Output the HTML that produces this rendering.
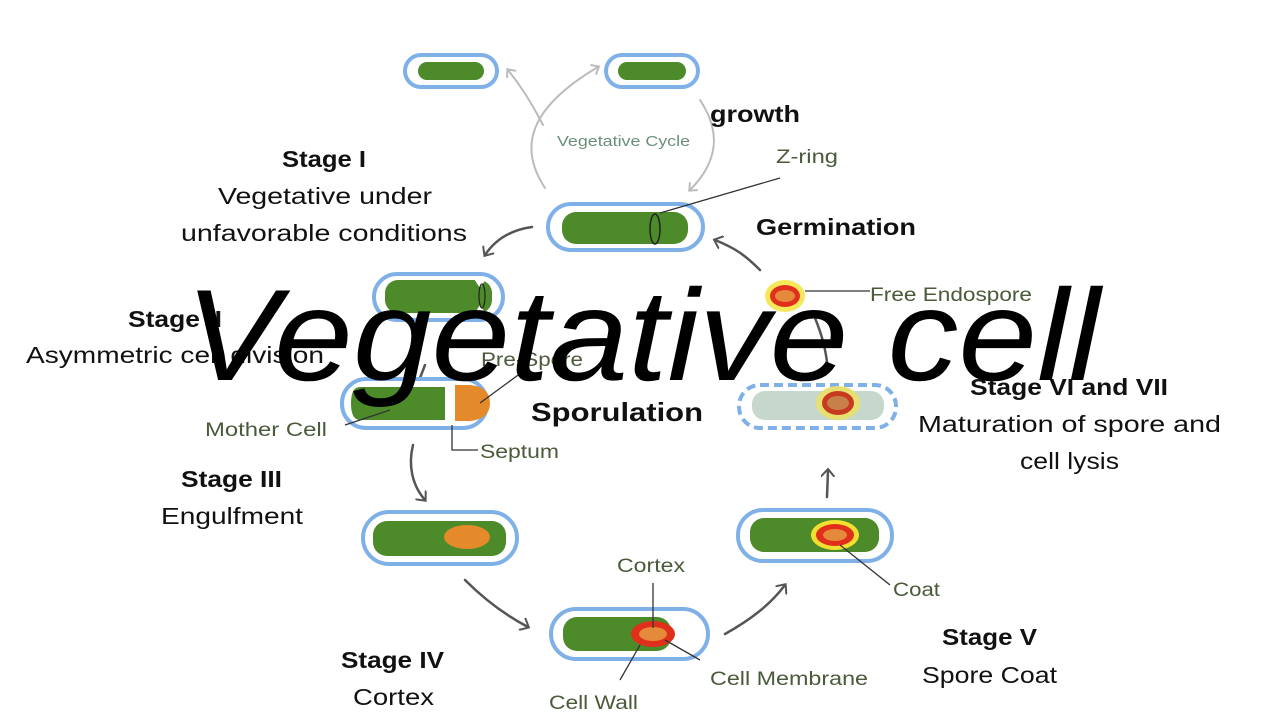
<!DOCTYPE html>
<html><head><meta charset="utf-8"><style>
html,body{margin:0;padding:0;background:#fff;}
svg{display:block;}
.lab{font-family:"Liberation Sans",sans-serif;fill:#4a5a3a;}
.h{font-family:"Liberation Sans",sans-serif;font-weight:bold;fill:#111;}
.t{font-family:"Liberation Sans",sans-serif;fill:#111;}
</style></head><body>
<svg width="1280" height="720" viewBox="0 0 1280 720" xmlns="http://www.w3.org/2000/svg">
<defs>
<marker id="ag" markerWidth="12" markerHeight="12" refX="6" refY="6" orient="auto" markerUnits="userSpaceOnUse"><path d="M0,0 L7,6 L0,12" fill="none" stroke="#bbb" stroke-width="2"/></marker>
<marker id="ad" markerWidth="14" markerHeight="14" refX="7" refY="7" orient="auto" markerUnits="userSpaceOnUse"><path d="M0,0 L8,7 L0,14" fill="none" stroke="#555" stroke-width="2"/></marker>
</defs>
<g stroke-linecap="round">
<path d="M545,188 C520,150 525,110 598,67" fill="none" stroke="#bbb" stroke-width="2" marker-end="url(#ag)"/>
<path d="M543,125 C530,100 520,85 508,70" fill="none" stroke="#bbb" stroke-width="2" marker-end="url(#ag)"/>
<path d="M700,100 C720,130 720,160 690,190" fill="none" stroke="#bbb" stroke-width="2" marker-end="url(#ag)"/>
<path d="M532,227 C510,230 495,240 485,255" fill="none" stroke="#555" stroke-width="2.5" marker-end="url(#ad)"/>
<path d="M760,270 C745,255 735,248 715,240" fill="none" stroke="#555" stroke-width="2.5" marker-end="url(#ad)"/>
<path d="M815,318 C822,335 826,350 828,370" fill="none" stroke="#555" stroke-width="2.5"/>
<path d="M413,445 C408,465 412,485 425,500" fill="none" stroke="#555" stroke-width="2.5" marker-end="url(#ad)"/>
<path d="M465,580 C485,600 505,615 528,627" fill="none" stroke="#555" stroke-width="2.5" marker-end="url(#ad)"/>
<path d="M725,634 C750,620 770,605 785,585" fill="none" stroke="#555" stroke-width="2.5" marker-end="url(#ad)"/>
<path d="M827,497 L828,470" fill="none" stroke="#555" stroke-width="2.5" marker-end="url(#ad)"/>
<path d="M425,365 L420,378" fill="none" stroke="#555" stroke-width="2.5"/>
</g>
<g stroke="#7fb0e8" stroke-width="4" fill="#fff">
<rect x="405" y="55" width="92" height="32" rx="16"/>
<rect x="606" y="55" width="92" height="32" rx="16"/>
<rect x="548" y="204" width="155" height="46" rx="23"/>
<rect x="374" y="274" width="129" height="46" rx="23"/>
<rect x="342" y="379" width="145" height="49" rx="24"/>
<rect x="363" y="512" width="154" height="52" rx="26"/>
<rect x="551" y="609" width="157" height="50" rx="25"/>
<rect x="738" y="510" width="154" height="51" rx="25"/>
<rect x="739" y="385" width="157" height="43" rx="21" stroke-dasharray="9,5"/>
</g>
<g fill="#4d8a2a">
<rect x="418" y="62" width="66" height="18" rx="9"/>
<rect x="618" y="62" width="68" height="18" rx="9"/>
<rect x="562" y="212" width="126" height="32" rx="14"/>
<rect x="385" y="280" width="107" height="33" rx="13"/>
<path d="M360,387 H445 V420 H360 Q351,420 351,403 Q351,387 360,387Z"/>
<rect x="373" y="521" width="133" height="35" rx="14"/>
<rect x="563" y="617" width="108" height="34" rx="14"/>
<rect x="750" y="518" width="129" height="34" rx="14"/>
</g>
<path d="M474,279 L480,288 L486,279Z M474,314 L480,305 L486,314Z" fill="#fff"/>
<rect x="752" y="391" width="132" height="29" rx="13" fill="#c6d7cb"/>
<path d="M455,385 H470 Q490,387 490,403 Q490,419 470,421 H455Z" fill="#e58a2a"/>
<ellipse cx="655" cy="229" rx="5" ry="15" fill="none" stroke="#222" stroke-width="1.5"/>
<ellipse cx="482" cy="296" rx="3" ry="12" fill="none" stroke="#222" stroke-width="1.2"/>
<ellipse cx="467" cy="537" rx="23" ry="12" fill="#e58a2a"/>
<ellipse cx="653" cy="634" rx="22" ry="13" fill="#e0301c"/><ellipse cx="653" cy="634" rx="14" ry="7" fill="#e58a3a"/>
<ellipse cx="835" cy="535" rx="24" ry="15" fill="#f2e030"/><ellipse cx="835" cy="535" rx="19" ry="11" fill="#e0301c"/><ellipse cx="835" cy="535" rx="12" ry="6" fill="#e58a3a"/>
<ellipse cx="785" cy="296" rx="20" ry="16" fill="#f3e648" opacity="0.9"/><ellipse cx="785" cy="296" rx="15" ry="11" fill="#e0301c"/><ellipse cx="785" cy="296" rx="10" ry="6" fill="#e58a3a"/>
<ellipse cx="838" cy="403" rx="22" ry="17" fill="#e7e070"/><ellipse cx="838" cy="403" rx="16" ry="12" fill="#c83a20"/><ellipse cx="838" cy="403" rx="11" ry="7" fill="#c8804a"/>
<g stroke="#333" stroke-width="1.3" fill="none">
<path d="M660,213 L780,178"/>
<path d="M805,291 L870,291"/>
<path d="M480,403 L525,370"/>
<path d="M452,425 V450 H478"/>
<path d="M345,425 L390,410"/>
<path d="M653,583 V628"/>
<path d="M640,645 L620,680"/>
<path d="M665,640 L700,660"/>
<path d="M840,545 L890,585"/>
</g>
<g>
<text x="557" y="146" class="lab" font-size="15" style="fill:#6a8f7a" textLength="133" lengthAdjust="spacingAndGlyphs">Vegetative Cycle</text>
<text x="710" y="122" class="h" font-size="23" textLength="90" lengthAdjust="spacingAndGlyphs">growth</text>
<text x="776" y="163" class="lab" font-size="19" textLength="62" lengthAdjust="spacingAndGlyphs">Z-ring</text>
<text x="282" y="167" class="h" font-size="23" textLength="84" lengthAdjust="spacingAndGlyphs">Stage I</text>
<text x="218" y="204" class="t" font-size="23" textLength="214" lengthAdjust="spacingAndGlyphs">Vegetative under</text>
<text x="181" y="241" class="t" font-size="23" textLength="286" lengthAdjust="spacingAndGlyphs">unfavorable conditions</text>
<text x="756" y="235" class="h" font-size="23" textLength="160" lengthAdjust="spacingAndGlyphs">Germination</text>
<text x="870" y="301" class="lab" font-size="19" textLength="162" lengthAdjust="spacingAndGlyphs">Free Endospore</text>
<text x="128" y="327" class="h" font-size="23" textLength="94" lengthAdjust="spacingAndGlyphs">Stage II</text>
<text x="26" y="363" class="t" font-size="23" textLength="298" lengthAdjust="spacingAndGlyphs">Asymmetric cell division</text>
<text x="481" y="366" class="lab" font-size="19" textLength="102" lengthAdjust="spacingAndGlyphs">Pre-Spore</text>
<text x="531" y="421" class="h" font-size="26" textLength="172" lengthAdjust="spacingAndGlyphs">Sporulation</text>
<text x="205" y="436" class="lab" font-size="19" textLength="122" lengthAdjust="spacingAndGlyphs">Mother Cell</text>
<text x="480" y="458" class="lab" font-size="19" textLength="79" lengthAdjust="spacingAndGlyphs">Septum</text>
<text x="970" y="395" class="h" font-size="23" textLength="198" lengthAdjust="spacingAndGlyphs">Stage VI and VII</text>
<text x="918" y="432" class="t" font-size="23" textLength="303" lengthAdjust="spacingAndGlyphs">Maturation of spore and</text>
<text x="1020" y="469" class="t" font-size="23" textLength="99" lengthAdjust="spacingAndGlyphs">cell lysis</text>
<text x="181" y="487" class="h" font-size="23" textLength="101" lengthAdjust="spacingAndGlyphs">Stage III</text>
<text x="161" y="524" class="t" font-size="23" textLength="142" lengthAdjust="spacingAndGlyphs">Engulfment</text>
<text x="617" y="572" class="lab" font-size="19" textLength="68" lengthAdjust="spacingAndGlyphs">Cortex</text>
<text x="893" y="596" class="lab" font-size="19" textLength="47" lengthAdjust="spacingAndGlyphs">Coat</text>
<text x="942" y="645" class="h" font-size="23" textLength="95" lengthAdjust="spacingAndGlyphs">Stage V</text>
<text x="922" y="683" class="t" font-size="23" textLength="135" lengthAdjust="spacingAndGlyphs">Spore Coat</text>
<text x="341" y="668" class="h" font-size="23" textLength="103" lengthAdjust="spacingAndGlyphs">Stage IV</text>
<text x="353" y="705" class="t" font-size="23" textLength="81" lengthAdjust="spacingAndGlyphs">Cortex</text>
<text x="710" y="685" class="lab" font-size="19" textLength="158" lengthAdjust="spacingAndGlyphs">Cell Membrane</text>
<text x="549" y="709" class="lab" font-size="19" textLength="89" lengthAdjust="spacingAndGlyphs">Cell Wall</text>
</g>
<text x="185" y="380" font-family="'Liberation Sans',sans-serif" font-style="italic" font-size="130" fill="#000" textLength="915" lengthAdjust="spacingAndGlyphs">Vegetative cell</text>
</svg>
</body></html>
